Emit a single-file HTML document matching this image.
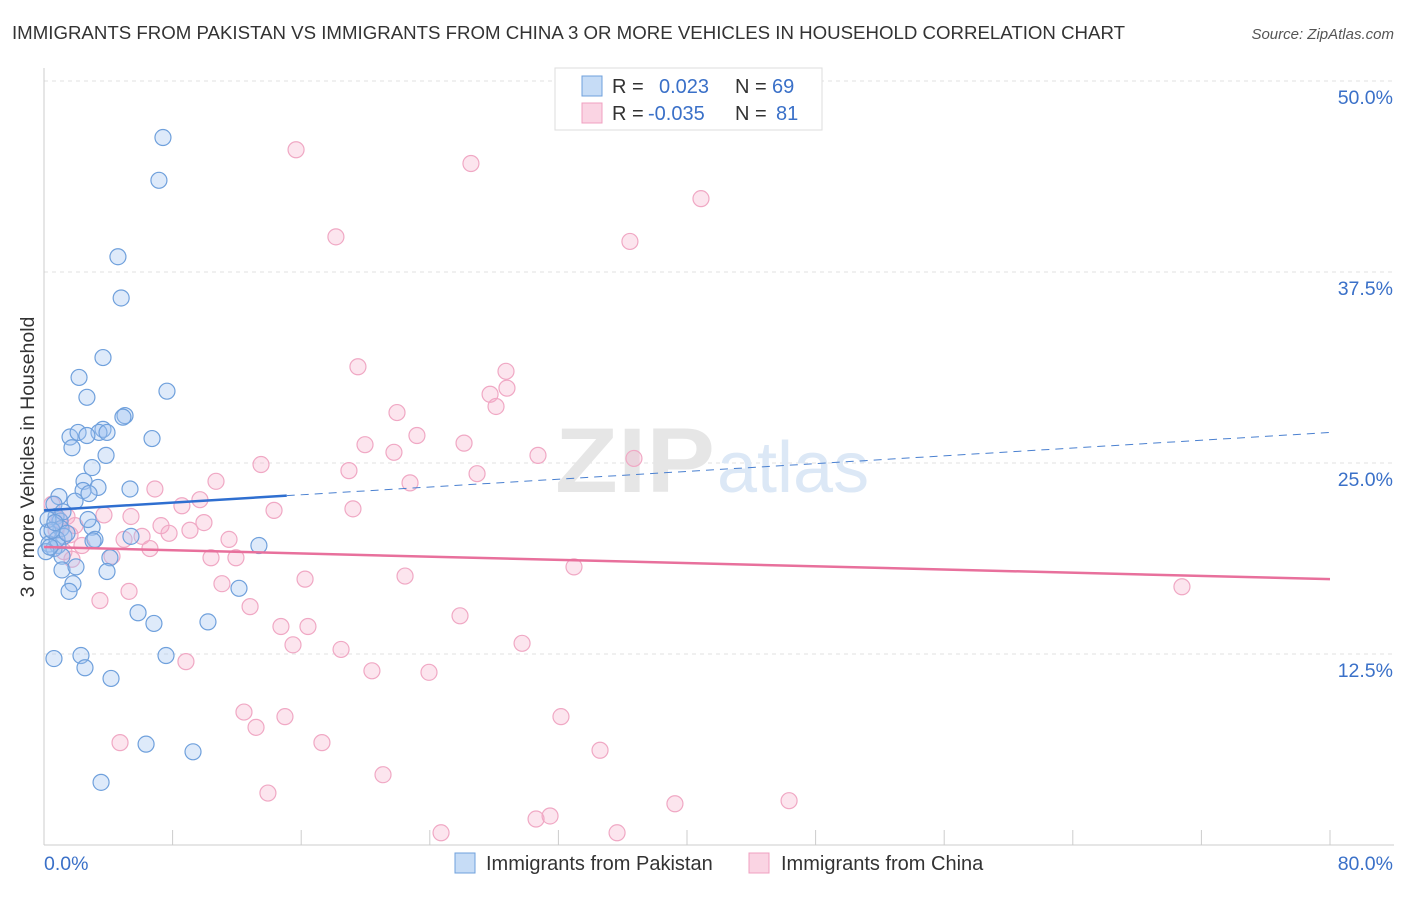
<!DOCTYPE html>
<html><head><meta charset="utf-8"><style>
body{margin:0;background:#fff;width:1406px;height:892px;overflow:hidden;font-family:"Liberation Sans",sans-serif}
svg text{font-family:"Liberation Sans",sans-serif}
</style></head><body>
<svg id="chart" width="1406" height="892" xmlns="http://www.w3.org/2000/svg">
<text x="12" y="39" font-size="18" fill="#333" textLength="1113" lengthAdjust="spacingAndGlyphs">IMMIGRANTS FROM PAKISTAN VS IMMIGRANTS FROM CHINA 3 OR MORE VEHICLES IN HOUSEHOLD CORRELATION CHART</text>
<text x="1394" y="39" font-size="15" fill="#555" font-style="italic" text-anchor="end">Source: ZipAtlas.com</text>
<g id="grid"></g>
<text x="555" y="492" font-size="92" fill="#e6e6e6" font-family="Liberation Serif" font-weight="bold" textLength="160" lengthAdjust="spacingAndGlyphs">ZIP</text>
<text x="717" y="492" font-size="72" fill="#dce8f6">atlas</text>
<g id="points"></g>
<g id="trends"></g>
<text transform="translate(34,457) rotate(-90)" font-size="19.5" fill="#333" text-anchor="middle">3 or more Vehicles in Household</text>
<g>
<rect x="555" y="68" width="267" height="62" fill="#fff" stroke="#ddd"/>
<rect x="582" y="76" width="20" height="20" fill="rgba(160,196,240,0.6)" stroke="#6fa0dc"/>
<rect x="582" y="103" width="20" height="20" fill="rgba(245,170,200,0.5)" stroke="#f0a0c0"/>
<text x="612" y="93" font-size="20" fill="#333">R = <tspan fill="#3a70c8" x="659">0.023</tspan><tspan fill="#333" x="735">N = </tspan><tspan fill="#3a70c8" x="772">69</tspan></text>
<text x="612" y="120" font-size="20" fill="#333">R = <tspan fill="#3a70c8" x="648">-0.035</tspan><tspan fill="#333" x="735">N = </tspan><tspan fill="#3a70c8" x="776">81</tspan></text>
</g>
<g>
<rect x="455" y="853" width="20" height="20" fill="rgba(160,196,240,0.6)" stroke="#6fa0dc"/>
<text x="486" y="870" font-size="20" fill="#333">Immigrants from Pakistan</text>
<rect x="749" y="853" width="20" height="20" fill="rgba(245,170,200,0.5)" stroke="#f0a0c0"/>
<text x="781" y="870" font-size="20" fill="#333">Immigrants from China</text>
</g>
</svg>
<script>
const pakX=[7.4,7.15,4.6,4.8,3.67,2.18,7.65,2.67,5.04,4.91,3.67,3.42,3.92,1.62,2.12,2.67,6.72,1.74,3.86,2.99,2.49,3.36,2.43,2.8,5.35,0.93,1.93,0.62,0.75,1.0,2.99,1.06,0.25,1.24,3.17,3.05,13.37,5.41,0.31,0.87,0.62,0.12,1.12,4.1,1.12,1.99,3.92,1.8,1.56,12.13,5.85,6.84,10.2,0.62,2.3,7.59,2.55,4.17,6.35,9.27,3.55,0.25,0.81,0.37,1.43,2.74,1.18,0.5,0.68];
const pakY=[46.3,43.5,38.5,35.8,31.9,30.6,29.7,29.3,28.1,28.0,27.2,27.0,27.0,26.7,27.0,26.8,26.6,26.0,25.5,24.7,23.8,23.4,23.2,23.0,23.3,22.8,22.5,22.3,21.5,21.2,20.8,20.7,20.5,20.2,20.0,19.9,19.6,20.2,19.7,19.6,19.4,19.2,18.9,18.8,18.0,18.2,17.9,17.1,16.6,16.8,15.2,14.5,14.6,12.2,12.4,12.4,11.6,10.9,6.6,6.1,4.1,21.3,20.0,19.5,20.4,21.3,21.8,20.6,21.1];
const chnX=[15.68,26.56,40.87,18.16,36.45,19.53,28.74,28.8,27.75,21.96,28.12,23.2,19.97,26.13,21.77,30.73,36.7,13.5,18.97,26.94,22.77,6.9,10.7,8.58,9.7,19.22,14.31,0.5,3.73,1.43,5.41,9.95,0.93,7.28,9.08,7.78,11.51,4.98,6.1,6.59,2.36,4.23,10.39,11.94,1.24,1.74,16.24,22.46,32.97,11.07,12.82,3.48,5.29,25.88,14.74,16.42,15.49,29.74,18.48,70.79,8.83,20.4,23.95,12.44,14.99,13.19,32.16,4.73,17.29,34.59,21.09,13.93,39.25,46.35,30.61,31.48,24.7,35.65,0.75,1.93,1.62];
const chnY=[45.5,44.6,42.3,39.8,39.5,31.3,31.0,29.9,29.5,28.3,28.7,26.8,26.2,26.3,25.7,25.5,25.3,24.9,24.5,24.3,23.7,23.3,23.8,22.2,22.6,22.0,21.9,22.3,21.6,21.5,21.5,21.1,21.3,20.9,20.6,20.4,20.0,20.0,20.2,19.4,19.6,18.9,18.8,18.8,19.2,18.7,17.4,17.6,18.2,17.1,15.6,16.0,16.6,15.0,14.3,14.3,13.1,13.2,12.8,16.9,12.0,11.4,11.3,8.7,8.4,7.7,8.4,6.7,6.7,6.2,4.6,3.4,2.7,2.9,1.7,1.9,0.8,0.8,20.6,20.9,20.3];
const pakTrend=[21.9,27.0];
const chnTrend=[19.5,17.4];
const xTicks=[0,8,16,24,32,40,48,56,64,72,80];
const yTicks=[12.5,25,37.5,50];
const yTickLabels=["12.5%","25.0%","37.5%","50.0%"];

const NS="http://www.w3.org/2000/svg";
const X=v=>44+v*16.075, Y=v=>845-v*15.28;
function mk(t,a,p){const e=document.createElementNS(NS,t);for(const k in a)e.setAttribute(k,a[k]);p.appendChild(e);return e;}
const grid=document.getElementById('grid');
yTicks.forEach((v,i)=>{
  const l=mk('line',{x1:44,x2:1394,y1:Y(v),y2:Y(v),stroke:'#e2e2e2','stroke-dasharray':'4,4'},grid);
  
  
  const t=mk('text',{x:1393,y:Y(v)+23,'font-size':19.5,fill:'#3a70c8','text-anchor':'end'},grid);
  t.textContent=yTickLabels[i];
  
  
});
const ax=mk('line',{x1:44,x2:1394,y1:845,y2:845,stroke:'#ccc'},grid);


const ay=mk('line',{x1:44,x2:44,y1:68,y2:845,stroke:'#ccc'},grid);


xTicks.forEach(v=>{
  const l=mk('line',{x1:X(v),x2:X(v),y1:830,y2:845,stroke:'#ccc'},grid);
  
  
});
const t0=mk('text',{x:44,y:870,'font-size':19.5,fill:'#3a70c8'},grid);t0.textContent='0.0%';


const t1=mk('text',{x:1393,y:870,'font-size':19.5,fill:'#3a70c8','text-anchor':'end'},grid);t1.textContent='80.0%';


const pts=document.getElementById('points');
chnX.forEach((v,i)=>{
  const c=mk('circle',{cx:X(v),cy:Y(chnY[i]),r:8,fill:'rgba(245,170,200,0.3)',stroke:'#f0a8c4','stroke-width':1.2},pts);
  
  
});
pakX.forEach((v,i)=>{
  const c=mk('circle',{cx:X(v),cy:Y(pakY[i]),r:8,fill:'rgba(160,196,240,0.35)',stroke:'#6fa0dc','stroke-width':1.2},pts);
  
  
});
const tr=document.getElementById('trends');
const py=v=>pakTrend[0]+(pakTrend[1]-pakTrend[0])*v/80;
const l1=mk('line',{x1:X(0),y1:Y(py(0)),x2:X(15.1),y2:Y(py(15.1)),stroke:'#2f6fd0','stroke-width':2.5},tr);


const l2=mk('line',{x1:X(15.1),y1:Y(py(15.1)),x2:X(80),y2:Y(py(80)),stroke:'#4a80d0','stroke-width':1,'stroke-dasharray':'8,6'},tr);


const l3=mk('line',{x1:X(0),y1:Y(chnTrend[0]),x2:X(80),y2:Y(chnTrend[1]),stroke:'#e8709c','stroke-width':2.5},tr);


</script>
</body></html>
